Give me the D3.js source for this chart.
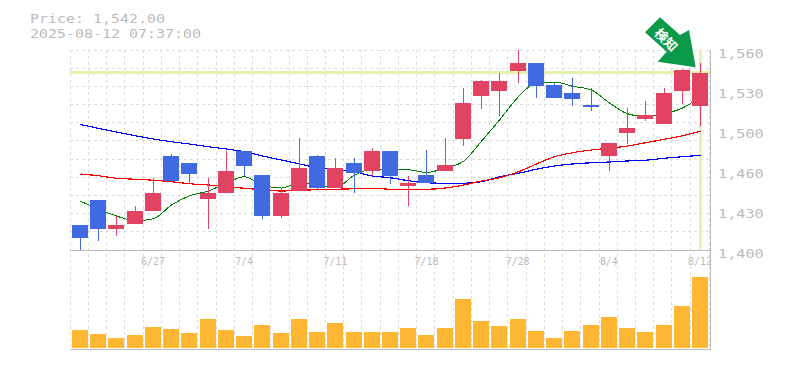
<!DOCTYPE html>
<html>
<head>
<meta charset="utf-8">
<script src="https://cdn.jsdelivr.net/npm/d3@7"></script>
<style>
    html, body { margin: 0; padding: 0; background: #fff; }
    svg { display: block; }
    text { font-family: "DejaVu Sans Mono", monospace; }
    .grid line { stroke: #ddd; stroke-dasharray: 3 3; shape-rendering: crispEdges; }
    .axis path, .axis line { display: none; }
</style>
</head>
<body>
<div id="chart"></div>
<script>
// values
let dates = ["6/23","6/24","6/25","6/26","6/27","6/30","7/1","7/2","7/3","7/4","7/7","7/8","7/9","7/10","7/11","7/14","7/15","7/16","7/17","7/18","7/22","7/23","7/24","7/25","7/28","7/29","7/30","7/31","8/1","8/4","8/5","8/6","8/7","8/8","8/12"];
let opens = [1420,1440,1417,1421,1431,1475,1470,1441,1446,1479,1460,1427,1447,1475,1450,1470,1463,1479,1451,1460,1463,1489,1523,1527,1543,1550,1532,1526,1516,1475,1494,1505,1501,1527,1515];
let highs = [1420,1440,1427,1435,1458,1477,1470,1458,1479,1479,1460,1450,1490,1476,1474,1474,1482,1479,1459,1480,1490,1530,1536,1542,1560,1550,1534,1538,1530,1486,1514,1519,1530,1545,1550];
let lows = [1400,1407,1411,1421,1431,1455,1453,1417,1446,1459,1425,1426,1447,1449,1450,1446,1459,1453,1435,1454,1463,1483,1513,1507,1534,1522,1522,1515,1511,1463,1485,1503,1501,1517,1499];
let closes = [1410,1417,1420,1431,1446,1455,1461,1446,1463,1467,1427,1446,1466,1450,1466,1462,1479,1459,1454,1454,1468,1518,1535,1535,1550,1531,1522,1521,1515,1486,1498,1508,1526,1544,1542];
let maShort = [1439,1432.8,1427.2,1423.4,1425,1436,1443.4,1447.2,1453.6,1458.6,1452,1449.6,1453.6,1451.6,1449.8,1460,1464.8,1464.4,1464.2,1462,1465.6,1471,1487,1504,1522.6,1533.8,1534.4,1531,1528,1517.6,1509,1506.6,1509,1513.6,1522.4];
let maMid = [1460.8,1459.4,1457.4,1456.6,1455.8,1454.6,1453,1452,1450.6,1449.4,1448.2,1447.2,1447.8,1448.2,1448.6,1449,1449.4,1448.6,1448.6,1448.6,1449.6,1452,1455.2,1457.8,1462.6,1468.8,1474.6,1477.8,1480,1481.4,1483.2,1485.8,1488.6,1491.4,1495];
let maLong = [1500.4,1497.3,1494.4,1491.4,1488.8,1486.6,1484.8,1482.6,1480.8,1478.6,1475.2,1472,1468.8,1465.8,1464.6,1462.6,1459.2,1457.8,1455.4,1453.8,1453.4,1453.4,1454.6,1458.6,1461.4,1464.6,1467.2,1468.8,1469.8,1470.4,1471.2,1471.8,1473.4,1474.6,1475.8];
let volumes = [18,14,10,13,21,19,15,29,18,12,23,15,29,16,25,16,16,16,20,13,20,49,27,22,29,17,10,17,23,31,20,16,23,42,71];
let priceTicks = [1400,1432,1464,1496,1528,1560];
let priceLabels = ["1,400","1,430","1,460","1,500","1,530","1,560"];
let dateTicks = ["6/27","7/4","7/11","7/18","7/28","8/4","8/12"];
let lastPrice = 1542;

let svg = d3.select("#chart").append("svg")
    .attr("width", 785)
    .attr("height", 370);

// scales
let x = d3.scaleBand().domain(dates).range([70.88, 709.11]);
let y = d3.scaleLinear().domain([1400, 1560]).range([250, 50]);
let yVol = d3.scaleLinear().domain([0, 98]).range([348, 250]);
let cx = d => Math.round(x(d) + x.bandwidth() / 2);

// grid
let grid = svg.append("g").attr("class", "grid");
let gridX = dates.map(d => x(d) - 0.68).concat([709]);
grid.selectAll(".gx").data(gridX).enter().append("line")
    .attr("class", "gx")
    .attr("x1", d => Math.floor(d) + 0.5)
    .attr("x2", d => Math.floor(d) + 0.5)
    .attr("y1", 50)
    .attr("y2", 350);
grid.selectAll(".gy").data(d3.range(0, 12)).enter().append("line")
    .attr("class", "gy")
    .attr("x1", 70)
    .attr("x2", 710)
    .attr("y1", d => Math.floor(y(1400 + d * 160 / 11)) + 0.5)
    .attr("y2", d => Math.floor(y(1400 + d * 160 / 11)) + 0.5);

// current price highlight
svg.append("line")
    .attr("x1", 70).attr("x2", 710)
    .attr("y1", y(lastPrice)).attr("y2", y(lastPrice))
    .attr("stroke", "#e3f5ac").attr("stroke-width", 3)
    .attr("shape-rendering", "crispEdges");
svg.append("line")
    .attr("x1", cx(dates[34]) + 0.5).attr("x2", cx(dates[34]) + 0.5)
    .attr("y1", 50).attr("y2", 250)
    .attr("stroke", "#e3f5ac").attr("stroke-width", 3)
    .attr("shape-rendering", "crispEdges");

// frame
let frame = svg.append("g").attr("stroke", "#bbb").attr("shape-rendering", "crispEdges");
frame.append("line").attr("x1", 70).attr("x2", 711).attr("y1", 250.5).attr("y2", 250.5);
frame.append("line").attr("x1", 70).attr("x2", 711).attr("y1", 349.5).attr("y2", 349.5);
frame.append("line").attr("x1", 710.5).attr("x2", 710.5).attr("y1", 50).attr("y2", 350);

// volume
svg.selectAll(".vol").data(volumes).enter().append("rect")
    .attr("class", "vol")
    .attr("x", (d, i) => cx(dates[i]) - 8)
    .attr("width", 16)
    .attr("y", d => yVol(d))
    .attr("height", d => yVol(0) - yVol(d))
    .attr("fill", "#ffb733")
    .attr("shape-rendering", "crispEdges");

// moving averages, the candles sit on top of them
let line = d3.line().curve(d3.curveMonotoneX).x((d, i) => cx(dates[i]) + 0.5).y(d => y(d));
[[maLong, "#0000ff", 1.2], [maMid, "#ff0000", 1.2], [maShort, "#008000", 1]].forEach(s => {
    svg.append("path")
        .attr("d", line(s[0]))
        .attr("fill", "none")
        .attr("stroke", s[1])
        .attr("stroke-width", s[2])
        .attr("shape-rendering", "crispEdges");
});

// candles
let upColor = "#e34362", downColor = "#4169e1";
let candle = svg.selectAll(".candle").data(dates).enter().append("g").attr("class", "candle");
candle.append("line")
    .attr("x1", d => cx(d) + 0.5)
    .attr("x2", d => cx(d) + 0.5)
    .attr("y1", (d, i) => y(highs[i]))
    .attr("y2", (d, i) => y(lows[i]))
    .attr("stroke", (d, i) => closes[i] >= opens[i] ? upColor : downColor)
    .attr("shape-rendering", "crispEdges");
candle.append("rect")
    .attr("x", d => cx(d) - 8)
    .attr("width", 16)
    .attr("y", (d, i) => y(Math.max(opens[i], closes[i])))
    .attr("height", (d, i) => Math.max(2, Math.abs(y(opens[i]) - y(closes[i]))))
    .attr("fill", (d, i) => closes[i] >= opens[i] ? upColor : downColor)
    .attr("shape-rendering", "crispEdges");

// axes
let yAxis = d3.axisRight(y).tickValues(priceTicks).tickFormat((d, i) => priceLabels[i]);
svg.append("g").attr("class", "axis")
    .attr("transform", "translate(709,0)")
    .call(yAxis)
    .call(g => g.selectAll("text")
        .attr("x", 0).attr("dy", 0).attr("y", 0)
        .attr("text-anchor", "start")
        .attr("transform", "translate(9,7) scale(1.17,1)")
        .attr("fill", "#bbb").style("font-size", "13px"));
let xAxis = d3.axisBottom(x).tickValues(dateTicks);
svg.append("g").attr("class", "axis")
    .attr("transform", "translate(0,250)")
    .call(xAxis)
    .call(g => g.selectAll("text")
        .attr("y", 0).attr("dy", 0)
        .attr("transform", "translate(0,15) scale(0.9,1)")
        .attr("fill", "#bbb").style("font-size", "11px"));

// header
svg.append("text").attr("transform", "translate(30,23) scale(1.15,1)").attr("fill", "#bbb").style("font-size", "13px")
    .text("Price: 1,542.00");
svg.append("text").attr("transform", "translate(30,38) scale(1.15,1)").attr("fill", "#bbb").style("font-size", "13px")
    .text("2025-08-12 07:37:00");

// arrow badge
let arrowPoints = [[660, 17.3], [645, 32.3], [666.7, 51.7], [657.7, 61.7], [695.7, 67.3], [689, 30], [680, 35]];
svg.append("path")
    .attr("d", d3.line()(arrowPoints) + "Z")
    .attr("fill", "#0a9a48");
svg.append("text")
    .attr("transform", "translate(666,40) rotate(45)")
    .attr("text-anchor", "middle")
    .attr("dy", "0.35em")
    .attr("fill", "#fff")
    .style("font-size", "13px")
    .style("font-weight", "bold")
    .style("font-family", "'Noto Sans CJK JP', sans-serif")
    .text("検知");
</script>
</body>
</html>
